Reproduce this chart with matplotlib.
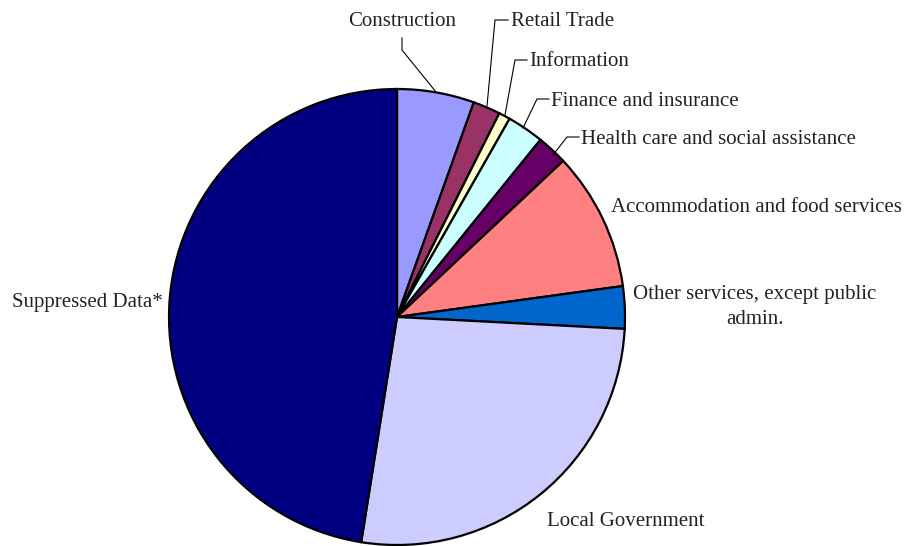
import matplotlib
matplotlib.use('Agg')
import matplotlib.pyplot as plt

labels = ['Construction', 'Retail Trade', 'Information', 'Finance and insurance',
          'Health care and social assistance', 'Accommodation and food services',
          'Other services, except public\nadmin.', 'Local Government', 'Suppressed Data*']
shares = [5.47, 1.94, 0.81, 2.61, 2.17, 9.83, 3.00, 26.68, 47.49]
colors = ['#9999FF', '#993366', '#FFFFCC', '#CCFFFF', '#660066',
          '#FF8080', '#0066CC', '#CCCCFF', '#000080']

W, H = 906, 546
fig = plt.figure(figsize=(W/100, H/100), dpi=100)
ax = fig.add_axes([0, 0, 1, 1])

# pie placed in pixel units (y measured from top in the picture)
cx, cy, r = 397, 317, 228
ax.pie(shares, colors=colors, startangle=90, counterclock=False,
       center=(cx, H - cy), radius=r,
       wedgeprops=dict(edgecolor='black', linewidth=1.6))
ax.set_xlim(0, W)
ax.set_ylim(0, H)
ax.set_aspect('equal')
ax.axis('off')

font = dict(family='Liberation Serif', fontsize=15, color='#222222')

def txt(x, y, s, **kw):
    ax.text(x, H - y, s, va='center', **{**font, **kw})

def lead(xs, ys):
    ax.plot(xs, [H - y for y in ys], color='black', lw=0.8)

# label text (left x, centre y in pixels)
txt(348, 21, labels[0])
txt(511, 22, labels[1])
txt(529, 62, labels[2])
txt(551, 101, labels[3])
txt(581, 139, labels[4])
txt(611, 208, labels[5])
txt(755, 307, labels[6], ha='center', linespacing=1.38)
txt(547, 522, labels[7])
txt(12, 302, labels[8])

# leader lines
lead([402, 402, 436], [38, 50, 92])
lead([508, 495, 487], [20, 20, 106])
lead([527, 515, 505], [60, 60, 115])
lead([549, 537, 523], [99, 99, 128])
lead([579, 567, 553], [137, 137, 155])

fig.savefig('out.png', dpi=100)
